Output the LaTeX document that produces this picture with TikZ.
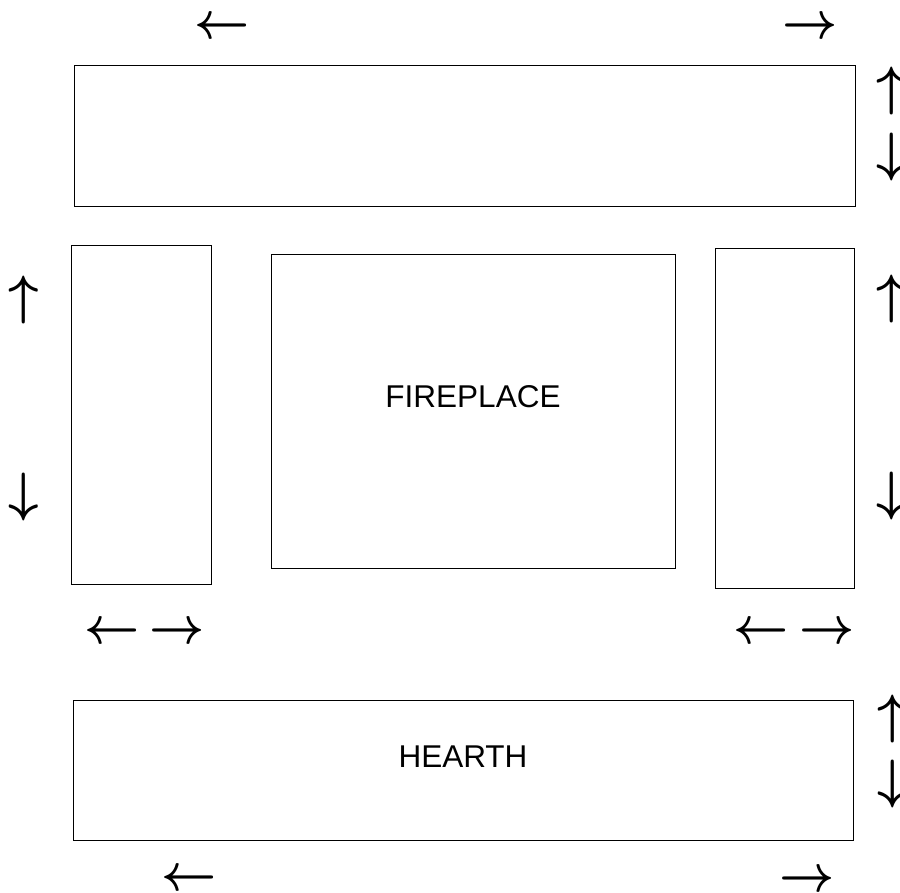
\documentclass[tikz,border=0pt]{standalone}
\usepackage{graphicx}
\usepackage{fontspec}
\setsansfont{Liberation Sans}
\begin{document}
\begin{tikzpicture}[x=1pt,y=-1pt,
  box/.style={draw=black, line width=1pt, rectangle, inner sep=0pt},
  lbl/.style={font=\sffamily\fontsize{31.5}{36}\selectfont, anchor=base, inner sep=0pt},
  arr/.style={inner sep=0pt}]
\useasboundingbox (0,0) rectangle (900,892);
\fill[white] (0,0) rectangle (900,892);
% boxes
\node[box, minimum width=781pt, minimum height=141pt] (top) at (464.5,135.5) {};
\node[box, minimum width=140pt, minimum height=339pt] (leftbox) at (141,414.5) {};
\node[box, minimum width=404pt, minimum height=314pt] (fire) at (473,411) {};
\node[box, minimum width=139pt, minimum height=340pt] (rightbox) at (784.5,418) {};
\node[box, minimum width=780pt, minimum height=140pt] (hearth) at (463,770) {};
% labels
\node[lbl] (firelbl) at (473,407) {FIREPLACE};
\node[lbl] (hearthlbl) at (463,767) {HEARTH};
% arrows
\newcommand{\harr}[1]{\scalebox{4.8}[5.2]{\boldmath$#1$}}
\newcommand{\varr}[1]{\scalebox{5.3}[5.4]{\boldmath$#1$}}
\node[arr] (a1) at (222,28) {\harr{\leftarrow}};
\node[arr] (a2) at (810,28) {\harr{\rightarrow}};
\node[arr] (a3) at (892,91) {\varr{\uparrow}};
\node[arr] (a4) at (892,157) {\varr{\downarrow}};
\node[arr] (a5) at (24,300) {\varr{\uparrow}};
\node[arr] (a6) at (24,497) {\varr{\downarrow}};
\node[arr] (a7) at (892,299) {\varr{\uparrow}};
\node[arr] (a8) at (892,496) {\varr{\downarrow}};
\node[arr] (a9) at (112,633) {\harr{\leftarrow}};
\node[arr] (a10) at (177,633) {\harr{\rightarrow}};
\node[arr] (a11) at (761,633) {\harr{\leftarrow}};
\node[arr] (a12) at (827,633) {\harr{\rightarrow}};
\node[arr] (a13) at (893,719) {\varr{\uparrow}};
\node[arr] (a14) at (893,784) {\varr{\downarrow}};
\node[arr] (a15) at (189,880) {\harr{\leftarrow}};
\node[arr] (a16) at (807,881) {\harr{\rightarrow}};
\end{tikzpicture}
\end{document}
